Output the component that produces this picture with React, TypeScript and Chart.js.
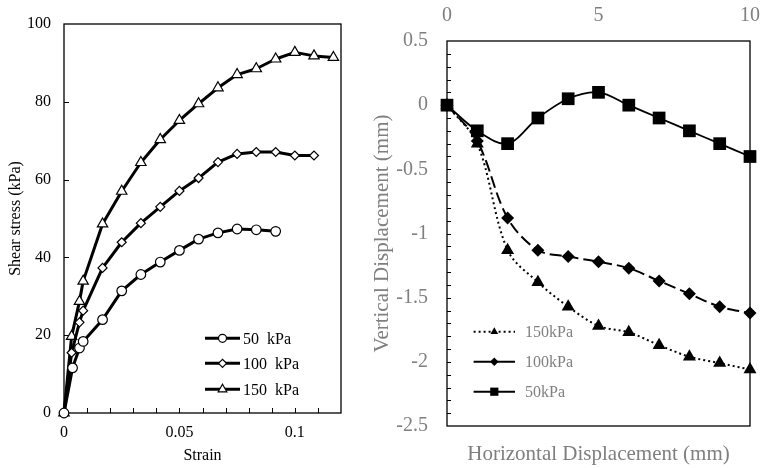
import React, { useEffect, useRef } from "react";
import { Chart, registerables } from "chart.js";

Chart.register(...registerables);

const SERIF = '"Liberation Serif", "Times New Roman", Times, serif';
const GREY = "#7f7f7f";

// ---------- Left chart: shear stress vs strain ----------
const STRAIN_50 = [0, 0.0037, 0.0067, 0.0083, 0.0167, 0.025, 0.0333, 0.0417, 0.05, 0.0583, 0.0667, 0.075, 0.0833, 0.0917];
const STRESS_50 = [0, 11.6, 16.7, 18.4, 24.0, 31.4, 35.6, 38.8, 41.8, 44.7, 46.3, 47.3, 47.1, 46.7];
const STRAIN_100 = [0, 0.0033, 0.0067, 0.0083, 0.0167, 0.025, 0.0333, 0.0417, 0.05, 0.0583, 0.0667, 0.075, 0.0833, 0.0917, 0.1, 0.1083];
const STRESS_100 = [0, 15.5, 23.3, 26.3, 37.3, 43.9, 48.8, 53.0, 57.1, 60.4, 64.5, 66.6, 67.1, 67.1, 66.2, 66.2];
const STRAIN_150 = [0, 0.0033, 0.0067, 0.0083, 0.0167, 0.025, 0.0333, 0.0417, 0.05, 0.0583, 0.0667, 0.075, 0.0833, 0.0917, 0.1, 0.1083, 0.1167];
const STRESS_150 = [0, 19.7, 28.7, 33.9, 48.6, 57.0, 64.4, 70.3, 75.2, 79.5, 83.6, 87.0, 88.5, 91.0, 92.7, 91.8, 91.4];
const LEFT_LABELS = ["50  kPa", "100  kPa", "150  kPa"];
const STRAIN_TICKS = [0, 0.05, 0.1];
const STRAIN_MINOR_TICKS = [0.01, 0.02, 0.03, 0.04, 0.05, 0.06, 0.07, 0.08, 0.09, 0.1, 0.11];
const STRESS_TICKS = [0, 20, 40, 60, 80, 100];

// ---------- Right chart: vertical vs horizontal displacement ----------
const HORIZ_DISP = [0, 1, 2, 3, 4, 5, 6, 7, 8, 9, 10];
const VERT_50 = [0, -0.2, -0.3, -0.1, 0.05, 0.1, 0, -0.1, -0.2, -0.3, -0.4];
const VERT_100 = [0, -0.28, -0.88, -1.13, -1.18, -1.22, -1.27, -1.37, -1.47, -1.57, -1.62];
const VERT_150 = [0, -0.3, -1.13, -1.38, -1.57, -1.72, -1.77, -1.87, -1.96, -2.01, -2.06];
const RIGHT_LABELS = ["150kPa", "100kPa", "50kPa"];
const HD_TICKS = [0, 5, 10];
const VD_TICKS = [-2.5, -2, -1.5, -1, -0.5, 0, 0.5];
const VD_MINOR_TICKS = [-2.4, -2.3, -2.2, -2.1, -2, -1.9, -1.8, -1.7, -1.6, -1.5, -1.4, -1.3, -1.2, -1.1, -1, -0.9, -0.8, -0.7, -0.6, -0.5, -0.4, -0.3, -0.2, -0.1, 0, 0.1, 0.2, 0.3, 0.4];

function drawMarker(ctx: CanvasRenderingContext2D, style: string, x: number, y: number, r: number, fill: string, stroke: string, lw: number) {
  ctx.save();
  ctx.setLineDash([]);
  ctx.beginPath();
  if (style === "circle") {
    ctx.arc(x, y, r, 0, Math.PI * 2);
  } else if (style === "rect") {
    const s = Math.SQRT1_2 * r;
    ctx.rect(x - s, y - s, 2 * s, 2 * s);
  } else if (style === "rectRot") {
    ctx.moveTo(x - r, y);
    ctx.lineTo(x, y - r);
    ctx.lineTo(x + r, y);
    ctx.lineTo(x, y + r);
    ctx.closePath();
  } else {
    ctx.moveTo(x, y - r);
    ctx.lineTo(x + 0.866 * r, y + 0.5 * r);
    ctx.lineTo(x - 0.866 * r, y + 0.5 * r);
    ctx.closePath();
  }
  ctx.fillStyle = fill;
  ctx.fill();
  if (lw > 0) {
    ctx.lineWidth = lw;
    ctx.strokeStyle = stroke;
    ctx.stroke();
  }
  ctx.restore();
}

const toPoints = (xs: number[], ys: number[]) => xs.map((x, i) => ({ x, y: ys[i] }));

function noPadFit(size: number, key: "height" | "width") {
  return (s: any) => {
    s[key] = size;
    s.paddingLeft = 0;
    s.paddingRight = 0;
    s.paddingTop = 0;
    s.paddingBottom = 0;
  };
}

function buildLeft(): any {
  const leftDeco = {
    id: "leftDeco",
    beforeDatasetsDraw(chart: any) {
      const { ctx, chartArea: ca, scales } = chart;
      ctx.save();
      ctx.strokeStyle = "#000";
      ctx.lineWidth = 1.3;
      ctx.strokeRect(ca.left, ca.top, ca.right - ca.left, ca.bottom - ca.top);
      ctx.lineWidth = 1;
      ctx.beginPath();
      STRAIN_MINOR_TICKS.forEach((v) => {
        const px = Math.round(scales.x.getPixelForValue(v)) + 0.5;
        ctx.moveTo(px, ca.bottom);
        ctx.lineTo(px, ca.bottom - 5);
      });
      STRESS_TICKS.slice(1, -1).forEach((v) => {
        const py = Math.round(scales.y.getPixelForValue(v)) + 0.5;
        ctx.moveTo(ca.left, py);
        ctx.lineTo(ca.left + 5, py);
      });
      ctx.stroke();
      ctx.restore();
    },
    afterDatasetsDraw(chart: any) {
      const { ctx, chartArea: ca } = chart;
      const styles = ["circle", "rectRot", "triangle"];
      const radii = [4, 4, 5];
      const rows = [338.3, 363.3, 389.3];
      ctx.save();
      LEFT_LABELS.forEach((label, i) => {
        const y = rows[i];
        const x1 = ca.left + 141;
        const x2 = ca.left + 176;
        ctx.beginPath();
        ctx.strokeStyle = "#000";
        ctx.lineWidth = 3;
        ctx.moveTo(x1, y);
        ctx.lineTo(x2, y);
        ctx.stroke();
        drawMarker(ctx, styles[i], (x1 + x2) / 2, y, radii[i], "#fff", "#000", 1.2);
        ctx.fillStyle = "#000";
        ctx.font = `16px ${SERIF}`;
        ctx.textBaseline = "middle";
        ctx.textAlign = "left";
        ctx.fillText(label, x2 + 3, y + 1);
      });
      ctx.restore();
    },
  };

  const ds = (xs: number[], ys: number[], style: string, r: number) => ({
    data: toPoints(xs, ys),
    borderColor: "#000",
    borderWidth: 3,
    borderJoinStyle: "round",
    pointStyle: style,
    pointRadius: r,
    pointBackgroundColor: "#fff",
    pointBorderColor: "#000",
    pointBorderWidth: 1.2,
    tension: 0,
    clip: false,
  });

  return {
    type: "line",
    data: {
      datasets: [
        ds(STRAIN_50, STRESS_50, "circle", 4.8),
        ds(STRAIN_100, STRESS_100, "rectRot", 4.5),
        ds(STRAIN_150, STRESS_150, "triangle", 6),
      ],
    },
    options: {
      responsive: false,
      animation: false,
      devicePixelRatio: 1,
      layout: { padding: { top: 24, right: 29, left: 0, bottom: 0 } },
      plugins: { legend: { display: false }, tooltip: { enabled: false } },
      scales: {
        x: {
          type: "linear",
          min: 0,
          max: 0.12,
          afterBuildTicks: (s: any) => { s.ticks = STRAIN_TICKS.map((v) => ({ value: v })); },
          afterFit: noPadFit(55, "height"),
          grid: { display: false, drawTicks: false },
          border: { display: false },
          ticks: { color: "#000", font: { family: SERIF, size: 16 }, padding: 10.4, maxRotation: 0, autoSkip: false, callback: (v: any) => String(v) },
          title: { display: true, text: "Strain", color: "#000", font: { family: SERIF, size: 16 }, padding: { top: 0, bottom: 2.8 } },
        },
        y: {
          type: "linear",
          min: 0,
          max: 100,
          afterBuildTicks: (s: any) => { s.ticks = STRESS_TICKS.map((v) => ({ value: v })); },
          afterFit: noPadFit(64, "width"),
          grid: { display: false, drawTicks: false },
          border: { display: false },
          ticks: { color: "#000", font: { family: SERIF, size: 16 }, padding: 13, autoSkip: false, callback: (v: any) => String(v) },
          title: { display: true, text: "Shear stress (kPa)", color: "#000", font: { family: SERIF, size: 16 }, padding: { top: 6.4, bottom: 0 } },
        },
      },
    },
    plugins: [leftDeco],
  };
}

function buildRight(): any {
  const rightDeco = {
    id: "rightDeco",
    beforeDatasetsDraw(chart: any) {
      const { ctx, chartArea: ca, scales } = chart;
      ctx.save();
      ctx.strokeStyle = "#000";
      ctx.lineWidth = 1.3;
      ctx.strokeRect(ca.left, ca.top, ca.right - ca.left, ca.bottom - ca.top);
      ctx.lineWidth = 1;
      ctx.beginPath();
      VD_MINOR_TICKS.forEach((v) => {
        const py = Math.round(scales.y.getPixelForValue(v)) + 0.5;
        ctx.moveTo(ca.left, py);
        ctx.lineTo(ca.left + 4, py);
      });
      ctx.stroke();
      ctx.restore();
    },
    afterDatasetsDraw(chart: any) {
      const { ctx, chartArea: ca } = chart;
      const styles = ["triangle", "rectRot", "rect"];
      const radii = [4.5, 4.2, 5.8];
      const dashes = [[2, 3], [], []];
      const widths = [2, 2, 2];
      const rows = [331.7, 361.7, 391.7];
      ctx.save();
      RIGHT_LABELS.forEach((label, i) => {
        const y = rows[i];
        const x1 = ca.left + 26.6;
        const x2 = ca.left + 68;
        ctx.beginPath();
        ctx.strokeStyle = "#000";
        ctx.lineWidth = widths[i];
        ctx.setLineDash(dashes[i]);
        ctx.moveTo(x1, y);
        ctx.lineTo(x2, y);
        ctx.stroke();
        ctx.setLineDash([]);
        drawMarker(ctx, styles[i], (x1 + x2) / 2, y, radii[i], "#000", "#000", 0);
        ctx.fillStyle = GREY;
        ctx.font = `16px ${SERIF}`;
        ctx.textBaseline = "middle";
        ctx.textAlign = "left";
        ctx.fillText(label, ca.left + 78, y + 1);
      });
      ctx.restore();
    },
  };

  const ds = (ys: number[], style: string, r: number, dash: number[], bw: number) => ({
    data: toPoints(HORIZ_DISP, ys),
    xAxisID: "x",
    yAxisID: "y",
    borderColor: "#000",
    borderWidth: bw,
    borderDash: dash,
    pointStyle: style,
    pointRadius: r,
    pointBackgroundColor: "#000",
    pointBorderColor: "#000",
    pointBorderWidth: 0,
    tension: 0.33,
    clip: false,
  });

  return {
    type: "line",
    data: {
      datasets: [
        ds(VERT_50, "rect", 9, [], 1.8),
        ds(VERT_100, "rectRot", 6.5, [12, 5], 2),
        ds(VERT_150, "triangle", 7.5, [2, 3], 2),
      ],
    },
    options: {
      responsive: false,
      animation: false,
      devicePixelRatio: 1,
      layout: { padding: { top: 0, right: 11, left: 0, bottom: 0 } },
      plugins: { legend: { display: false }, tooltip: { enabled: false } },
      scales: {
        x: {
          type: "linear",
          position: "top",
          min: 0,
          max: 10,
          afterBuildTicks: (s: any) => { s.ticks = HD_TICKS.map((v) => ({ value: v })); },
          afterFit: noPadFit(41, "height"),
          grid: { display: false, drawTicks: false },
          border: { display: false },
          ticks: { color: GREY, font: { family: SERIF, size: 20 }, padding: 13, maxRotation: 0, autoSkip: false, callback: (v: any) => String(v) },
        },
        x2: {
          type: "linear",
          position: "bottom",
          min: 0,
          max: 10,
          afterFit: noPadFit(42, "height"),
          grid: { display: false, drawTicks: false },
          border: { display: false },
          ticks: { display: false },
          title: { display: true, text: "Horizontal Displacement (mm)", color: GREY, font: { family: SERIF, size: 21 }, padding: { top: 0, bottom: 0.8 } },
        },
        y: {
          type: "linear",
          min: -2.5,
          max: 0.5,
          afterBuildTicks: (s: any) => { s.ticks = VD_TICKS.map((v) => ({ value: v })); },
          afterFit: noPadFit(87, "width"),
          grid: { display: false, drawTicks: false },
          border: { display: false },
          ticks: { color: GREY, font: { family: SERIF, size: 20 }, padding: 19, autoSkip: false, callback: (v: any) => String(v) },
          title: { display: true, text: "Vertical Displacement (mm)", color: GREY, font: { family: SERIF, size: 21 }, padding: { top: 9.4, bottom: 0 } },
        },
      },
    },
    plugins: [rightDeco],
  };
}

function ChartCanvas({ left, width, height, build }: { left: number; width: number; height: number; build: () => any }) {
  const ref = useRef<HTMLCanvasElement | null>(null);
  useEffect(() => {
    let chart: Chart | null = null;
    let cancelled = false;
    const make = () => {
      if (cancelled || !ref.current) return;
      chart = new Chart(ref.current, build());
    };
    const fonts: any = (document as any).fonts;
    if (fonts && fonts.load) {
      Promise.all([
        fonts.load('16px "Liberation Serif"'),
        fonts.load('20px "Liberation Serif"'),
      ]).then(make, make);
    } else {
      make();
    }
    return () => {
      cancelled = true;
      if (chart) chart.destroy();
    };
  }, []);
  return (
    <canvas
      ref={ref}
      width={width}
      height={height}
      style={{ position: "absolute", left, top: 0, width, height, display: "block" }}
    />
  );
}

export default function App() {
  return (
    <div style={{ position: "absolute", left: 0, top: 0, width: 761, height: 468, background: "#fff", overflow: "hidden" }}>
      <ChartCanvas left={0} width={370} height={468} build={buildLeft} />
      <ChartCanvas left={360} width={401} height={468} build={buildRight} />
    </div>
  );
}
